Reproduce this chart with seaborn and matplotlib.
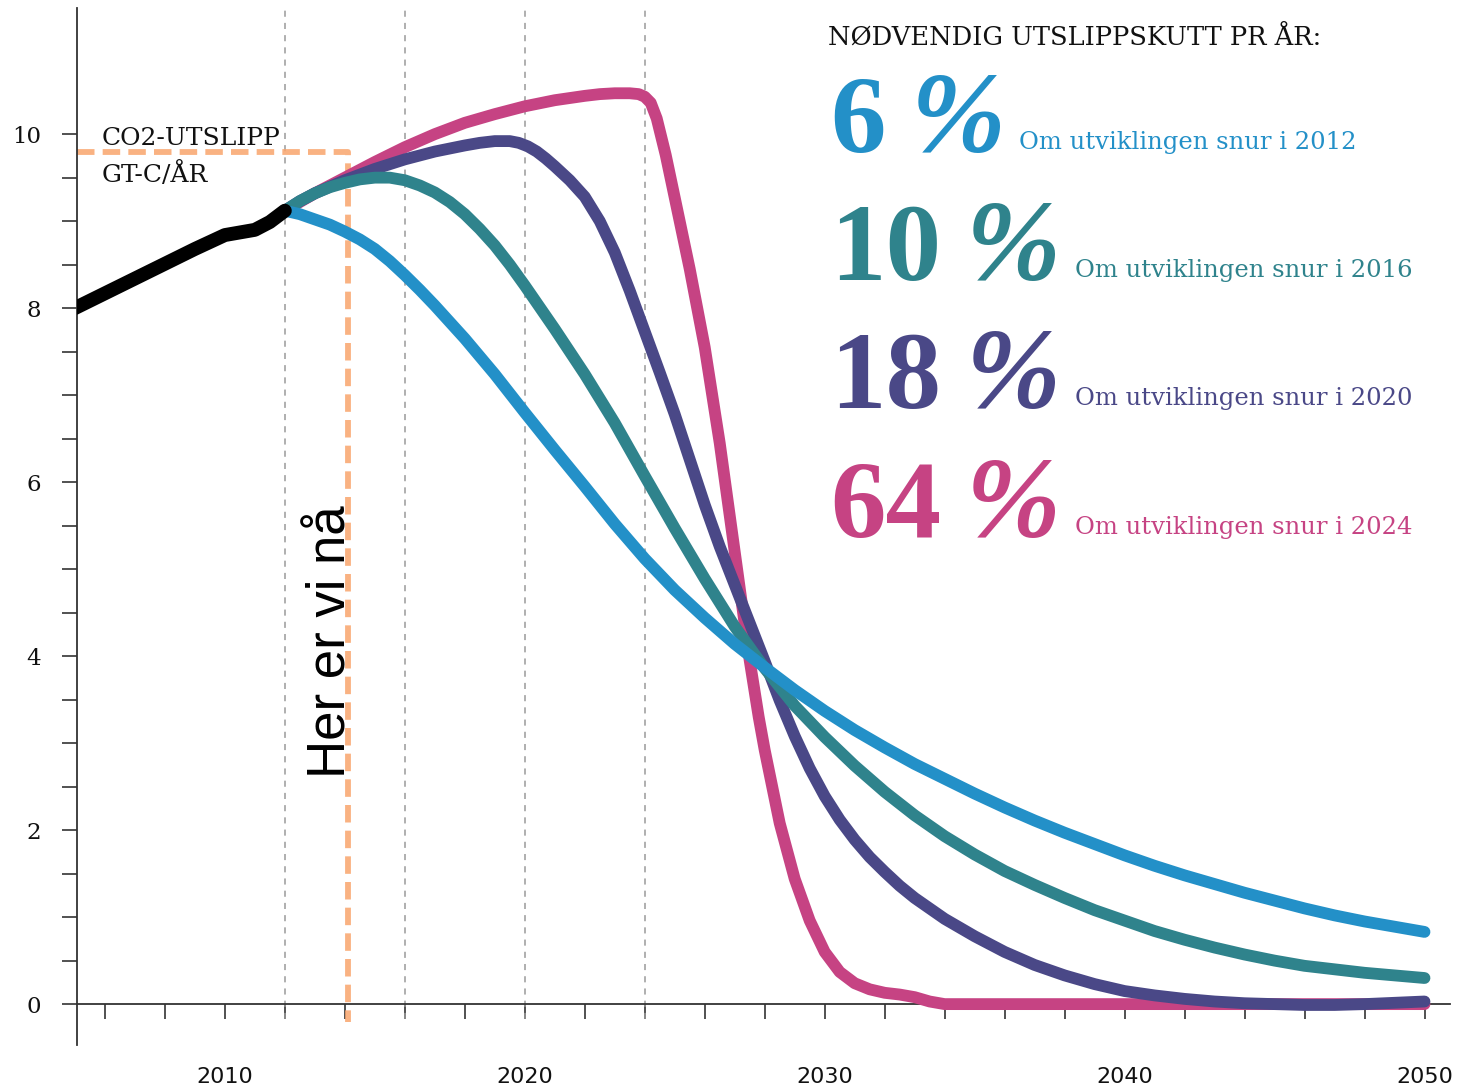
import numpy as np
import pandas as pd
import matplotlib
matplotlib.use("Agg")
import matplotlib.pyplot as plt
import seaborn as sns

# historic emissions, Gt C per year
hist_years = [2005, 2006, 2007, 2008, 2009, 2010, 2010.5, 2011, 2011.5, 2012]
hist_vals = [8.0, 8.17, 8.34, 8.51, 8.68, 8.84, 8.87, 8.9, 8.99, 9.12]

# scenario: turn in 2012 (6 %)
years_2012 = [2012, 2012.5, 2013, 2013.5, 2014, 2014.5, 2015, 2015.5, 2016, 2016.5,
              2017, 2018, 2019, 2020, 2021, 2022, 2023, 2024, 2025, 2026,
              2027, 2028, 2029, 2030, 2031, 2032, 2033, 2034, 2035, 2036,
              2037, 2038, 2039, 2040, 2041, 2042, 2043, 2044, 2045, 2046,
              2047, 2048, 2049, 2050]
vals_2012 = [9.12, 9.08, 9.02, 8.96, 8.88, 8.79, 8.68, 8.54, 8.38, 8.21,
             8.03, 7.65, 7.24, 6.80, 6.37, 5.95, 5.52, 5.12, 4.76, 4.44,
             4.14, 3.87, 3.61, 3.37, 3.15, 2.95, 2.76, 2.59, 2.42, 2.26,
             2.11, 1.97, 1.84, 1.71, 1.59, 1.48, 1.38, 1.28, 1.19, 1.10,
             1.02, 0.95, 0.89, 0.83]

# scenario: turn in 2016 (10 %)
years_2016 = [2012, 2012.5, 2013, 2013.5, 2014, 2014.5, 2015, 2015.5, 2016, 2016.5,
              2017, 2017.5, 2018, 2018.5, 2019, 2019.5, 2020, 2021, 2022, 2023,
              2024, 2025, 2026, 2027, 2028, 2029, 2030, 2031, 2032, 2033,
              2034, 2035, 2036, 2037, 2038, 2039, 2040, 2041, 2042, 2043,
              2044, 2045, 2046, 2047, 2048, 2049, 2050]
vals_2016 = [9.12, 9.23, 9.32, 9.39, 9.44, 9.48, 9.50, 9.50, 9.47, 9.41,
             9.33, 9.22, 9.08, 8.91, 8.72, 8.50, 8.26, 7.76, 7.24, 6.68,
             6.07, 5.47, 4.89, 4.34, 3.86, 3.43, 3.07, 2.74, 2.44, 2.17,
             1.93, 1.72, 1.53, 1.37, 1.22, 1.08, 0.96, 0.84, 0.74, 0.65,
             0.57, 0.50, 0.44, 0.40, 0.36, 0.33, 0.30]

# scenario: turn in 2020 (18 %)
years_2020 = [2012, 2012.5, 2013, 2014, 2015, 2016, 2017, 2018, 2018.5, 2019,
              2019.5, 2019.8, 2020.1, 2020.4, 2020.7, 2021, 2021.5, 2022, 2022.5, 2023,
              2023.5, 2024, 2024.5, 2025, 2025.5, 2026, 2026.5, 2027, 2027.5, 2028,
              2028.5, 2029, 2029.5, 2030, 2030.5, 2031, 2031.5, 2032, 2032.5, 2033,
              2034, 2035, 2036, 2037, 2038, 2039, 2040, 2041, 2042, 2043,
              2044, 2045, 2046, 2047, 2048, 2049, 2050]
vals_2020 = [9.12, 9.23, 9.32, 9.47, 9.60, 9.71, 9.80, 9.87, 9.90, 9.92,
             9.92, 9.90, 9.86, 9.80, 9.72, 9.63, 9.47, 9.28, 9.00, 8.64,
             8.20, 7.73, 7.26, 6.78, 6.26, 5.74, 5.26, 4.82, 4.38, 3.94,
             3.49, 3.08, 2.71, 2.39, 2.12, 1.89, 1.69, 1.52, 1.36, 1.22,
             0.98, 0.78, 0.60, 0.45, 0.33, 0.23, 0.15, 0.10, 0.06, 0.03,
             0.01, 0.0, -0.01, -0.01, 0.0, 0.015, 0.03]

# scenario: turn in 2024 (64 %)
years_2024 = [2012, 2013, 2014, 2015, 2016, 2017, 2018, 2019, 2020, 2021,
              2022, 2022.5, 2023, 2023.5, 2023.8, 2024.0, 2024.2, 2024.4, 2024.7, 2025,
              2025.5, 2026, 2026.5, 2027, 2027.5, 2027.8, 2028, 2028.5, 2029, 2029.5,
              2030, 2030.5, 2031, 2031.5, 2032, 2032.5, 2033, 2033.5, 2034, 2040,
              2045, 2050]
vals_2024 = [9.12, 9.32, 9.50, 9.68, 9.85, 10.00, 10.13, 10.23, 10.32, 10.39,
             10.44, 10.46, 10.47, 10.47, 10.46, 10.43, 10.36, 10.18, 9.76, 9.27,
             8.45, 7.55, 6.45, 5.20, 3.95, 3.30, 2.92, 2.08, 1.44, 0.96,
             0.60, 0.37, 0.24, 0.17, 0.13, 0.11, 0.08, 0.03, 0.0, 0.0,
             0.0, 0.0]

pct_labels = ["6", "10", "18", "64"]
turn_labels = ["Om utviklingen snur i 2012", "Om utviklingen snur i 2016",
               "Om utviklingen snur i 2020", "Om utviklingen snur i 2024"]
colors = ["#2390c8", "#2f838c", "#4a4887", "#c64383"]

turn_years = [2012, 2016, 2020, 2024]
now_year = 2014.1
now_level = 9.8

sns.set_theme(style="white")
plt.rcParams["font.family"] = ["DejaVu Sans"]

W, H = 1458, 1091
fig = plt.figure(figsize=(W / 100, H / 100), dpi=100)
ax = fig.add_axes([77 / W, 1 - 1045 / H, (1450 - 77) / W, (1045 - 8) / H])
x0, x1 = 2005.07, 2050.85
ax.set_xlim(x0, x1)
ax.set_ylim(-0.47, 11.45)


def px(x, y):
    return (x / W, 1 - y / H)


# grey guide lines at the turning years
ax.vlines(turn_years, -0.17, 11.45, colors="#9a9a9a", linestyles=(0, (4, 4)), linewidth=1.1, zorder=1)

# "here we are now" marker
ax.plot([x0, now_year, now_year], [now_level, now_level, -0.2], color="#f9a56c", alpha=0.85,
        linewidth=4.2, dashes=(3.0, 1.4), solid_joinstyle="miter", zorder=2, clip_on=False)

series = [(years_2024, vals_2024, colors[3]), (years_2020, vals_2020, colors[2]),
          (years_2016, vals_2016, colors[1]), (years_2012, vals_2012, colors[0])]
for i, (yrs, vals, col) in enumerate(series):
    df = pd.DataFrame({"year": yrs, "gtc": vals})
    sns.lineplot(data=df, x="year", y="gtc", color=col, linewidth=8.5, estimator=None,
                 solid_capstyle="round", solid_joinstyle="round", ax=ax, zorder=3 + i)

hist = pd.DataFrame({"year": hist_years, "gtc": hist_vals})
sns.lineplot(data=hist, x="year", y="gtc", color="black", linewidth=10, estimator=None,
             solid_capstyle="round", solid_joinstyle="round", ax=ax, zorder=10)

# axes styling
ax.spines["top"].set_visible(False)
ax.spines["right"].set_visible(False)
ax.spines["bottom"].set_position(("data", 0))
for s in ["left", "bottom"]:
    ax.spines[s].set_color("#333333")
    ax.spines[s].set_linewidth(1.3)

xt = list(range(2006, 2051, 2))
ax.set_xticks(xt)
ax.set_xticklabels([str(t) if t % 10 == 0 else "" for t in xt])
yt = np.arange(0, 10.01, 0.5)
ax.set_yticks(yt)
ax.set_yticklabels([str(int(t)) if t % 2 == 0 else "" for t in yt], family="DejaVu Serif")
ax.tick_params(axis="x", direction="out", length=11, width=1.2, color="#333333",
               pad=34, labelsize=16, labelcolor="#111111", bottom=True)
ax.tick_params(axis="y", direction="out", length=11, width=1.2, color="#333333",
               pad=15, labelsize=16.5, labelcolor="#111111", left=True)
ax.set_xlabel("")
ax.set_ylabel("")
ax.grid(False)

# axis title
ax.text(2005.9, 9.87, "CO2-UTSLIPP", family="DejaVu Serif", fontsize=18, color="#111111", va="baseline")
ax.text(2005.9, 9.45, "GT-C/ÅR", family="DejaVu Serif", fontsize=18, color="#111111", va="baseline")

ax.text(now_year - 0.07, 2.6, "Her er vi nå", rotation=90, rotation_mode="anchor",
        ha="left", va="baseline", fontsize=38, family="Liberation Sans", color="black", zorder=12)

# legend block on the right
fig.text(*px(828, 45), "NØDVENDIG UTSLIPPSKUTT PR ÅR:", family="DejaVu Serif", fontsize=18.5,
         color="#111111", va="baseline")
base_ys = [152, 280, 408, 537]
for pct, lab, col, by in zip(pct_labels, turn_labels, colors, base_ys):
    num = fig.text(*px(830, by), pct, family="Liberation Serif", weight="bold", fontsize=80,
                   color=col, va="baseline")
    sign = ax.annotate("%", xy=(1, 0), xycoords=num, xytext=(18, 0), textcoords="offset points",
                       family="Liberation Serif", weight="bold", style="italic", fontsize=82,
                       color=col, va="bottom", ha="left", annotation_clip=False)
    ax.annotate(lab, xy=(1, 0), xycoords=sign, xytext=(10, 15), textcoords="offset points",
                family="DejaVu Serif", fontsize=17.5, color=col, va="bottom", ha="left",
                annotation_clip=False)

fig.savefig("out.png", dpi=100)
